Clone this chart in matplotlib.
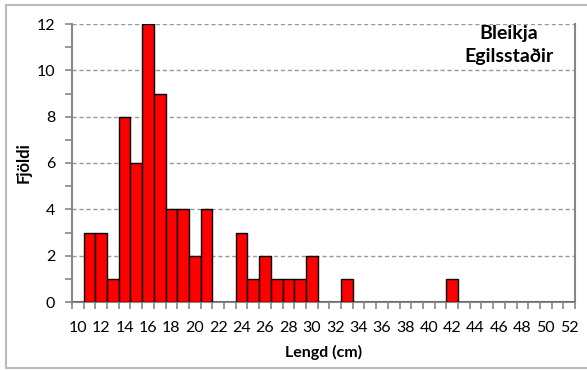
import numpy as np
import matplotlib.pyplot as plt
from matplotlib.lines import Line2D

plt.rcParams['font.family'] = ['Lato', 'DejaVu Sans']

# lengd (cm) og fjöldi
lengd = list(range(10, 53))
fjoldi = [0, 3, 3, 1, 8, 6, 12, 9, 4, 4, 2, 4, 0, 0, 3, 1, 2, 1, 1, 1, 2,
          0, 0, 1, 0, 0, 0, 0, 0, 0, 0, 0, 1, 0, 0, 0, 0, 0, 0, 0, 0, 0, 0]
x_labels = [str(v) for v in range(10, 53, 2)]
titill = 'Bleikja\nEgilsstaðir'

W, H = 587, 370
fig = plt.figure(figsize=(W / 100, H / 100), dpi=100)
ax = fig.add_axes([72 / W, 1 - 302 / H, (575 - 72) / W, (302 - 24) / H])

pos = np.arange(len(lengd))
ax.bar(pos, fjoldi, width=1.0, color='#ff0000', edgecolor='black',
       linewidth=1.0, zorder=3)

ax.set_xlim(-0.5, len(lengd) - 0.5)
ax.set_ylim(0, 12)

ax.set_xticks(pos[::2], x_labels)
ax.set_xticks(np.arange(-0.5, len(lengd)), minor=True)
ax.tick_params(axis='x', which='major', length=0, pad=14, labelsize=11.5)
ax.tick_params(axis='x', which='minor', length=5, color='#888888', width=1.2)

ax.set_yticks(range(0, 13, 2))
ax.set_yticks(range(1, 13, 2), minor=True)
ax.tick_params(axis='y', which='both', length=5, color='#888888', width=1.2,
               labelsize=11.5, pad=7)

ax.yaxis.grid(True, linestyle=(0, (3, 2)), color='#999999', linewidth=1.0,
              zorder=0)

for s in ['left', 'bottom', 'right']:
    ax.spines[s].set_color('#888888')
    ax.spines[s].set_linewidth(1.5)
ax.spines['top'].set_visible(False)

ax.set_xlabel('Lengd (cm)', fontsize=11.5, fontweight='bold', labelpad=7)
ax.set_ylabel('Fjöldi', fontsize=12, fontweight='bold', labelpad=4)

fig.text(509 / W, 1 - 45 / H, titill, ha='center', va='center', fontsize=14,
         fontweight='bold', linespacing=1.45)

# chart border
bx0, by0, by1 = 5.5 / W, 1 - 368 / H, 1 - 5 / H
for xs, ys in [([bx0, bx0], [by0, by1]), ([bx0, 1], [by1, by1]),
               ([bx0, 1], [by0, by0])]:
    fig.add_artist(Line2D(xs, ys, color='#bbbbbb', linewidth=1.5))

fig.savefig('out.png', dpi=100)
